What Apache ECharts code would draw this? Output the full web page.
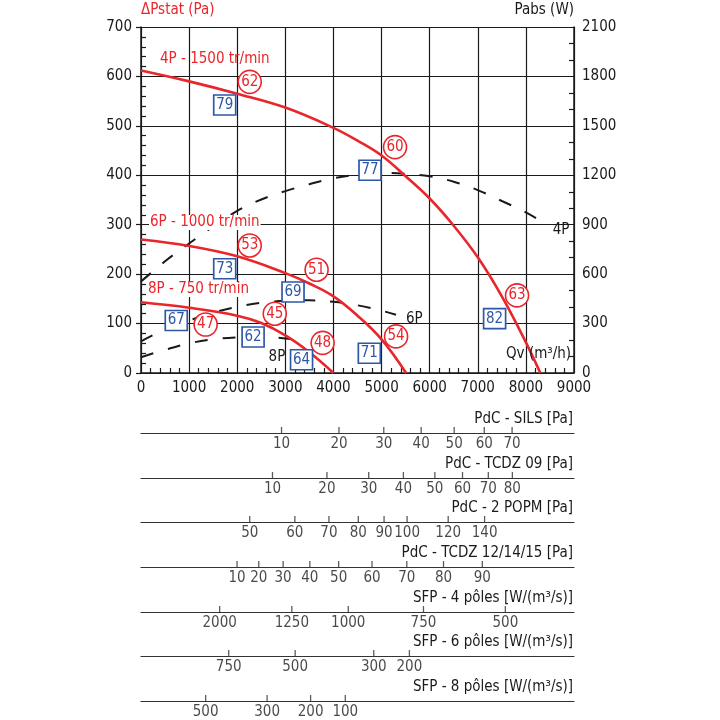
<!DOCTYPE html>
<html>
<head>
<meta charset="utf-8">
<script src="https://cdn.jsdelivr.net/npm/echarts@6/dist/echarts.min.js"></script>
<style>
  html, body { margin: 0; padding: 0; background: #fff; }
  #main { width: 720px; height: 720px; }
</style>
</head>
<body>
<div id="main"></div>
<script>
// courbes de pression statique (Pa)
const qv4P = [0, 1000, 2000, 3000, 4000, 4500, 5000, 5500, 6000, 6500, 7000, 7500, 8000, 8300];
const pa4P = [612, 590, 565, 537, 496, 470, 440, 398, 353, 298, 234, 155, 62, 0];
const qv6P = [0, 1000, 2000, 3000, 3500, 4000, 4500, 5000, 5510];
const pa6P = [270, 257, 236, 202, 181, 155, 116, 68, 0];
const qv8P = [0, 1000, 2000, 2500, 3000, 3500, 4000];
const pa8P = [143, 132, 116, 101, 76, 42, 0];

// puissance absorbee (W)
const qvW4P = [0, 500, 1000, 1500, 2000, 2500, 3000, 3500, 4000, 4500, 5000, 5500, 6000, 6500, 7000, 7500, 8000, 8350];
const w4P = [555, 678, 786, 888, 984, 1053, 1104, 1146, 1182, 1203, 1215, 1209, 1194, 1161, 1110, 1044, 975, 915];
const qvW6P = [0, 500, 1000, 1500, 2000, 2500, 3000, 3500, 4000, 4500, 5000, 5300];
const w6P = [192, 264, 318, 366, 402, 426, 438, 441, 432, 411, 378, 354];
const qvW8P = [0, 500, 1000, 1500, 2000, 2500, 3000, 3400];
const w8P = [96, 141, 180, 204, 216, 219, 210, 192];

// points rouges (cercles) et bleus (carres)
const circleQv = [2260, 5280, 2260, 3650, 2780, 1344, 3775, 5302, 7816];
const circlePa = [589, 457, 258, 209, 120, 98, 61, 74, 157];
const circleText = ['62', '60', '53', '51', '45', '47', '48', '54', '63'];
const squareQv = [1740, 4760, 1740, 3160, 733, 2330, 3337, 4746, 7350];
const squarePa = [542, 410, 211, 164, 106, 73, 27, 40, 110];
const squareText = ['79', '77', '73', '69', '67', '62', '64', '71', '82'];

// echelles du bas (position en Qv)
const silsValues = [10, 20, 30, 40, 50, 60, 70];
const silsQv = [2921, 4115, 5046, 5823, 6510, 7135, 7713];
const tcdz09Values = [10, 20, 30, 40, 50, 60, 70, 80];
const tcdz09Qv = [2733, 3865, 4733, 5454, 6108, 6683, 7219, 7719];
const popmValues = [50, 60, 70, 80, 90, 100, 120, 140];
const popmQv = [2260, 3198, 3906, 4517, 5052, 5531, 6385, 7142];
const tcdz12Values = [10, 20, 30, 40, 50, 60, 70, 80, 90];
const tcdz12Qv = [1996, 2448, 2954, 3510, 4108, 4802, 5525, 6288, 7094];
const sfp4Values = [2000, 1250, 1000, 750, 500];
const sfp4Qv = [1635, 3135, 4308, 5871, 7573];
const sfp6Values = [750, 500, 300, 200];
const sfp6Qv = [1823, 3204, 4838, 5579];
const sfp8Values = [500, 300, 200, 100];
const sfp8Qv = [1344, 2621, 3525, 4246];

const scaleTitles = ['PdC - SILS [Pa]', 'PdC - TCDZ 09 [Pa]', 'PdC - 2 POPM [Pa]', 'PdC - TCDZ 12/14/15 [Pa]',
  'SFP - 4 pôles [W/(m³/s)]', 'SFP - 6 pôles [W/(m³/s)]', 'SFP - 8 pôles [W/(m³/s)]'];

const FONT = "'Liberation Sans Narrow', 'DejaVu Sans Condensed', sans-serif";
const FS = 14;
const RED = '#e8262b';
const BLUE = '#2d57a8';
const INK = '#1a1a1a';

const zip = (a, b) => a.map((v, i) => [v, b[i]]);
const plain = v => String(v);

const scales = [
  [silsValues, silsQv], [tcdz09Values, tcdz09Qv], [popmValues, popmQv], [tcdz12Values, tcdz12Qv],
  [sfp4Values, sfp4Qv], [sfp6Values, sfp6Qv], [sfp8Values, sfp8Qv]
];
const scaleLineY = [433, 478, 522, 567, 612, 656, 701];
const LEFT = 141, RIGHT = 146;

const grids = [{ left: LEFT, right: RIGHT, top: 27, height: 346 }];
const xAxes = [{
  type: 'value', gridIndex: 0, min: 0, max: 9000, interval: 1000,
  axisLine: { lineStyle: { color: INK, width: 1.5 } },
  axisTick: { show: true, inside: true, length: 5, lineStyle: { color: INK } },
  minorTick: { show: true, splitNumber: 5, length: 5, lineStyle: { color: INK, width: 1.2 } },
  axisLabel: { color: INK, fontSize: FS + 1, fontFamily: FONT, margin: 8, formatter: plain },
  splitLine: { show: true, lineStyle: { color: INK, width: 1.2 } }
}];
const yAxes = [{
  type: 'value', gridIndex: 0, min: 0, max: 700, interval: 100, position: 'left',
  name: 'ΔPstat (Pa)', nameGap: 9,
  nameTextStyle: { color: RED, fontSize: FS + 1, fontFamily: FONT, align: 'left' },
  axisLine: { show: true, lineStyle: { color: INK, width: 1.5 } },
  axisTick: { show: true, inside: true, length: 5, lineStyle: { color: INK } },
  minorTick: { show: true, splitNumber: 5, length: 5, lineStyle: { color: INK, width: 1.2 } },
  axisLabel: { color: INK, fontSize: FS + 1, fontFamily: FONT, margin: 9, formatter: plain },
  splitLine: { show: true, lineStyle: { color: INK, width: 1.2 } }
}, {
  type: 'value', gridIndex: 0, min: 0, max: 2100, interval: 300, position: 'right',
  name: 'Pabs (W)', nameGap: 9,
  nameTextStyle: { color: INK, fontSize: FS + 1, fontFamily: FONT, align: 'right' },
  axisLine: { show: true, lineStyle: { color: INK, width: 1.5 } },
  axisTick: { show: true, inside: true, length: 5, lineStyle: { color: INK } },
  minorTick: { show: true, splitNumber: 3, length: 5, lineStyle: { color: INK, width: 1.2 } },
  axisLabel: { color: INK, fontSize: FS + 1, fontFamily: FONT, margin: 8, formatter: plain },
  splitLine: { show: false }
}, {
  // petits traits exterieurs sur l'axe de gauche
  type: 'value', gridIndex: 0, min: 0, max: 700, interval: 100, position: 'left',
  axisLine: { show: false },
  axisTick: { show: true, inside: false, length: 5, lineStyle: { color: INK, width: 1.2 } },
  axisLabel: { show: false }, splitLine: { show: false }
}];

const series = [];
const graphics = [];

scales.forEach((s, i) => {
  const gi = i + 1;
  grids.push({ left: LEFT, right: RIGHT, top: scaleLineY[i] - 8, height: 8 });
  xAxes.push({
    type: 'value', gridIndex: gi, min: 0, max: 9000,
    axisLine: { lineStyle: { color: '#333', width: 1.2 } },
    axisTick: { show: false }, axisLabel: { show: false }, splitLine: { show: false }
  });
  yAxes.push({ type: 'value', gridIndex: gi, min: 0, max: 1, show: false });
  series.push({
    type: 'scatter', xAxisIndex: gi, yAxisIndex: 3 + i,
    data: s[1].map((q, k) => ({ value: [q, 0], label: { formatter: String(s[0][k]) } })),
    symbol: 'rect', symbolSize: [1.3, 6], symbolOffset: [0, -3],
    itemStyle: { color: '#333' },
    label: { show: true, position: 'bottom', distance: 4, color: INK, fontSize: FS + 1, fontFamily: FONT },
    silent: true
  });
  graphics.push({
    type: 'text', right: RIGHT + 1, top: scaleLineY[i] - 21,
    style: { text: scaleTitles[i], fill: INK, fontSize: FS + 1, fontFamily: FONT }
  });
});

const redLine = (qv, pa) => ({
  type: 'line', xAxisIndex: 0, yAxisIndex: 0, data: zip(qv, pa), smooth: 0.4,
  showSymbol: false, lineStyle: { color: RED, width: 2.6 }, z: 4, silent: true
});
const dashLine = (qv, w, name, off) => ({
  type: 'line', xAxisIndex: 0, yAxisIndex: 1, data: zip(qv, w), smooth: 0.4,
  showSymbol: false, lineStyle: { color: INK, width: 2, type: [13, 15] }, z: 3, silent: true,
  endLabel: { show: true, formatter: name, color: INK, fontSize: FS + 1, fontFamily: FONT, offset: off }
});

series.push(
  dashLine(qvW4P, w4P, '4P', [2, 8]),
  dashLine(qvW6P, w6P, '6P', [2, 4]),
  dashLine(qvW8P, w8P, '8P', [-44, 16]),
  redLine(qv4P, pa4P),
  redLine(qv6P, pa6P),
  redLine(qv8P, pa8P),
  {
    type: 'scatter', xAxisIndex: 0, yAxisIndex: 0, z: 10, silent: true,
    data: circleQv.map((q, i) => ({ value: [q, circlePa[i]], label: { formatter: circleText[i] } })),
    symbol: 'circle', symbolSize: 23,
    itemStyle: { color: '#fff', borderColor: RED, borderWidth: 1.6, opacity: 1 },
    label: { show: true, position: 'inside', color: RED, fontSize: FS + 1, fontFamily: FONT }
  },
  {
    type: 'scatter', xAxisIndex: 0, yAxisIndex: 0, z: 10, silent: true,
    data: squareQv.map((q, i) => ({ value: [q, squarePa[i]], label: { formatter: squareText[i] } })),
    symbol: 'rect', symbolSize: [22, 20],
    itemStyle: { color: '#fff', borderColor: BLUE, borderWidth: 1.6, opacity: 1 },
    label: { show: true, position: 'inside', color: BLUE, fontSize: FS + 1, fontFamily: FONT }
  }
);

graphics.push(
  { type: 'text', left: 160, top: 52, z: 20, style: { text: '4P - 1500 tr/min', fill: RED, fontSize: FS + 1, fontFamily: FONT } },
  { type: 'text', left: 149, top: 215, z: 20, style: { text: '6P - 1000 tr/min', fill: RED, fontSize: FS + 1, fontFamily: FONT, backgroundColor: '#fff', padding: [0, 1] } },
  { type: 'text', left: 147, top: 282, z: 20, style: { text: '8P - 750 tr/min', fill: RED, fontSize: FS + 1, fontFamily: FONT, backgroundColor: '#fff', padding: [0, 1] } },
  { type: 'text', left: 506, top: 347, z: 20, style: { text: 'Qv (m³/h)', fill: INK, fontSize: FS + 1, fontFamily: FONT } }
);

const chart = echarts.init(document.getElementById('main'));
chart.setOption({
  animation: false,
  backgroundColor: '#fff',
  textStyle: { fontFamily: FONT },
  grid: grids,
  xAxis: xAxes,
  yAxis: yAxes,
  series: series,
  graphic: graphics
});
</script>
</body>
</html>
